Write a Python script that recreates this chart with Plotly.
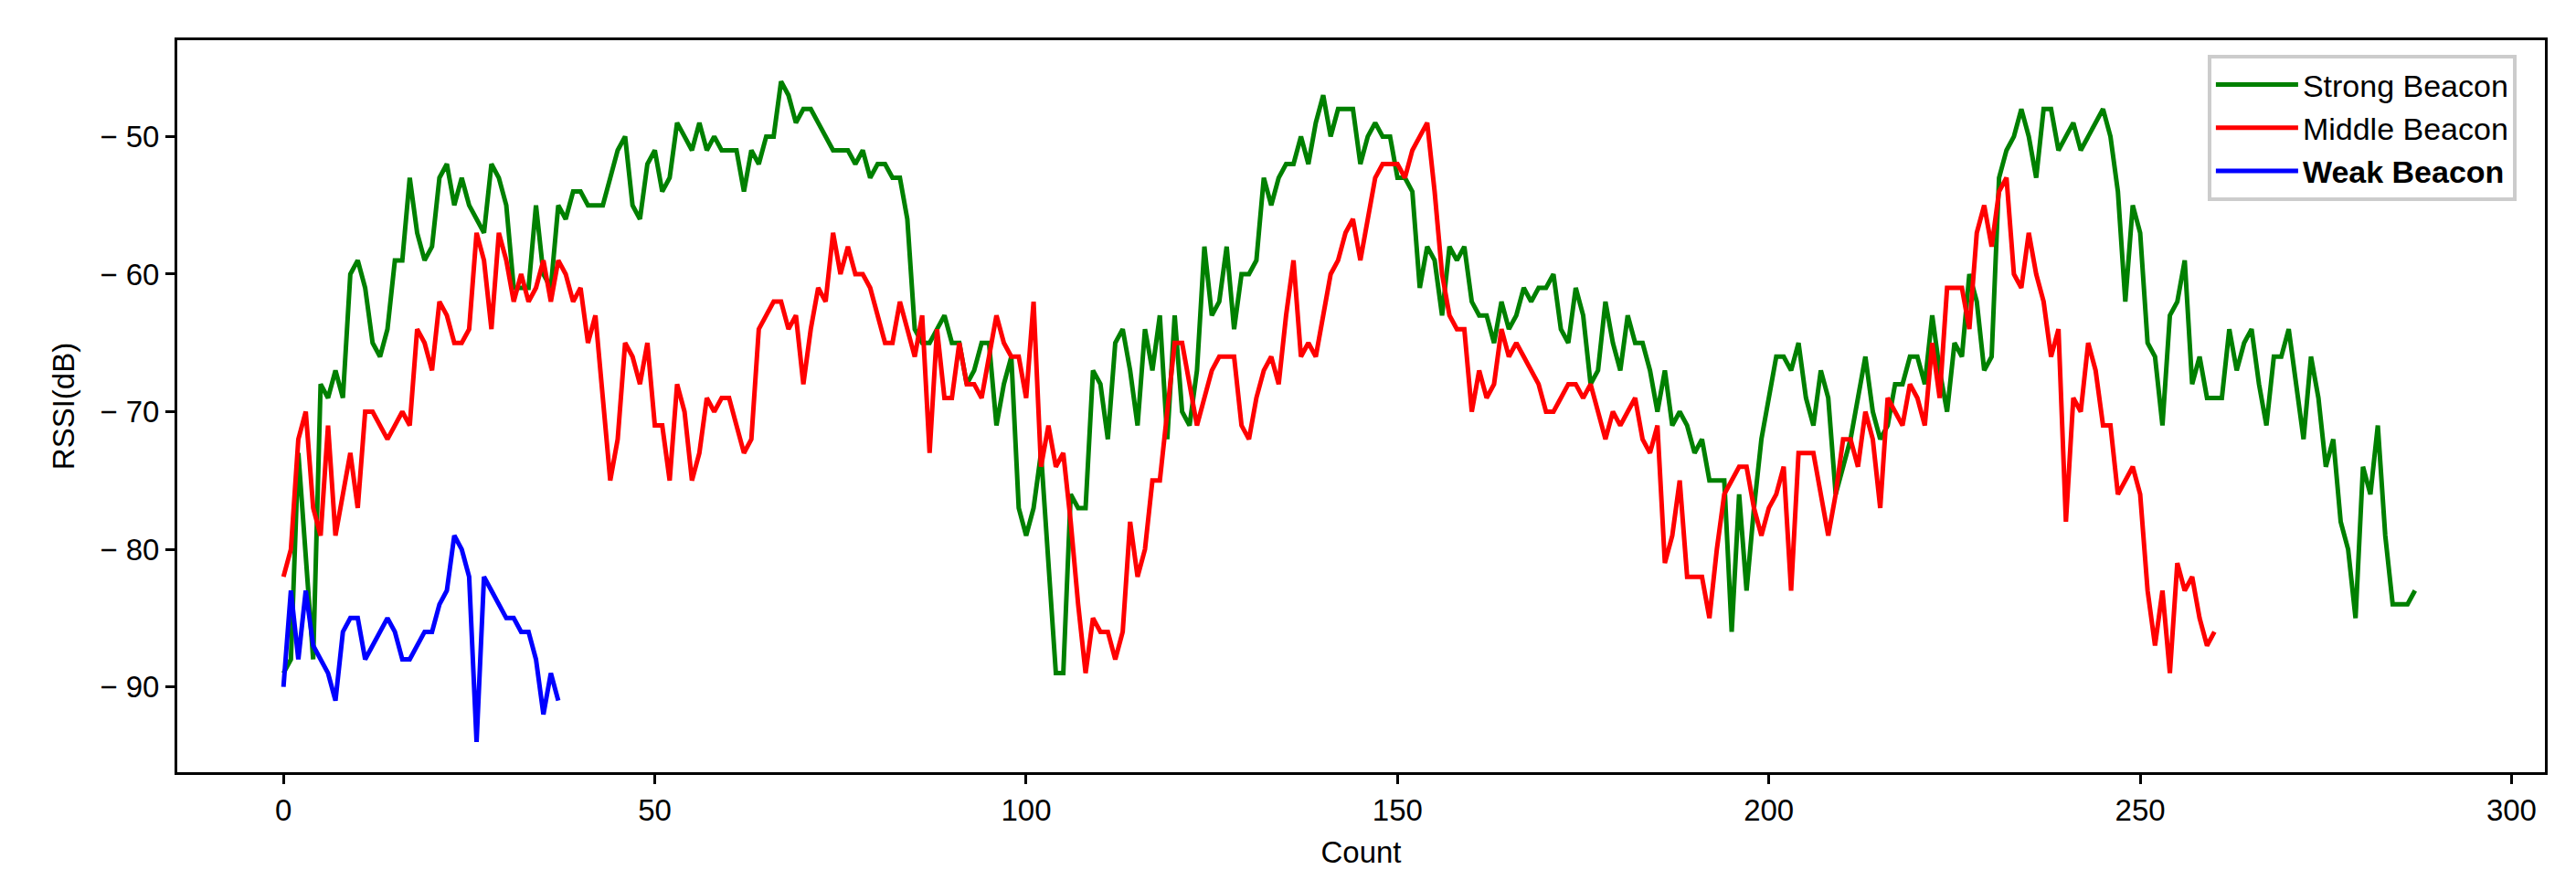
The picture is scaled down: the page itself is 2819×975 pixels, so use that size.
import plotly.graph_objects as go

strong = [-89,-88,-73,-80,-88,-68,-69,-67,-69,-60,-59,-61,-65,-66,-64,-59,-59,-53,-57,-59,
-58,-53,-52,-55,-53,-55,-56,-57,-52,-53,-55,-61,-61,-61,-55,-60,-61,-55,-56,-54,
-54,-55,-55,-55,-53,-51,-50,-55,-56,-52,-51,-54,-53,-49,-50,-51,-49,-51,-50,-51,
-51,-51,-54,-51,-52,-50,-50,-46,-47,-49,-48,-48,-49,-50,-51,-51,-51,-52,-51,-53,
-52,-52,-53,-53,-56,-64,-65,-65,-64,-63,-65,-65,-68,-67,-65,-65,-71,-68,-66,-77,
-79,-77,-73,-81,-89,-89,-76,-77,-77,-67,-68,-72,-65,-64,-67,-71,-64,-67,-63,-72,
-63,-70,-71,-67,-58,-63,-62,-58,-64,-60,-60,-59,-53,-55,-53,-52,-52,-50,-52,-49,
-47,-50,-48,-48,-48,-52,-50,-49,-50,-50,-53,-53,-54,-61,-58,-59,-63,-58,-59,-58,
-62,-63,-63,-65,-62,-64,-63,-61,-62,-61,-61,-60,-64,-65,-61,-63,-68,-67,-62,-65,
-67,-63,-65,-65,-67,-70,-67,-71,-70,-71,-73,-72,-75,-75,-75,-86,-76,-83,-77,-72,
-69,-66,-66,-67,-65,-69,-71,-67,-69,-76,-74,-72,-69,-66,-70,-72,-71,-68,-68,-66,
-66,-68,-63,-67,-70,-65,-66,-60,-62,-67,-66,-53,-51,-50,-48,-50,-53,-48,-48,-51,
-50,-49,-51,-50,-49,-48,-50,-54,-62,-55,-57,-65,-66,-71,-63,-62,-59,-68,-66,-69,
-69,-69,-64,-67,-65,-64,-68,-71,-66,-66,-64,-68,-72,-66,-69,-74,-72,-78,-80,-85,
-74,-76,-71,-79,-84,-84,-84,-83]

middle = [-82,-80,-72,-70,-77,-79,-71,-79,-76,-73,-77,-70,-70,-71,-72,-71,-70,-71,-64,-65,
-67,-62,-63,-65,-65,-64,-57,-59,-64,-57,-59,-62,-60,-62,-61,-59,-62,-59,-60,-62,
-61,-65,-63,-69,-75,-72,-65,-66,-68,-65,-71,-71,-75,-68,-70,-75,-73,-69,-70,-69,
-69,-71,-73,-72,-64,-63,-62,-62,-64,-63,-68,-64,-61,-62,-57,-60,-58,-60,-60,-61,
-63,-65,-65,-62,-64,-66,-63,-73,-64,-69,-69,-65,-68,-68,-69,-66,-63,-65,-66,-66,
-69,-62,-74,-71,-74,-73,-78,-84,-89,-85,-86,-86,-88,-86,-78,-82,-80,-75,-75,-70,
-65,-65,-68,-71,-69,-67,-66,-66,-66,-71,-72,-69,-67,-66,-68,-63,-59,-66,-65,-66,
-63,-60,-59,-57,-56,-59,-56,-53,-52,-52,-52,-53,-51,-50,-49,-54,-60,-63,-64,-64,
-70,-67,-69,-68,-64,-66,-65,-66,-67,-68,-70,-70,-69,-68,-68,-69,-68,-70,-72,-70,
-71,-70,-69,-72,-73,-71,-81,-79,-75,-82,-82,-82,-85,-80,-76,-75,-74,-74,-77,-79,
-77,-76,-74,-83,-73,-73,-73,-76,-79,-76,-72,-72,-74,-70,-72,-77,-69,-70,-71,-68,
-69,-71,-65,-69,-61,-61,-61,-64,-57,-55,-58,-54,-53,-60,-61,-57,-60,-62,-66,-64,
-78,-69,-70,-65,-67,-71,-71,-76,-75,-74,-76,-83,-87,-83,-89,-81,-83,-82,-85,-87,
-86]

weak = [-90,-83,-88,-83,-87,-88,-89,-91,-86,-85,-85,-88,-87,-86,-85,-86,-88,-88,-87,-86,
-86,-84,-83,-79,-80,-82,-94,-82,-83,-84,-85,-85,-86,-86,-88,-92,-89,-91]

names = ["Strong Beacon", "Middle Beacon", "<b>Weak Beacon</b>"]
colors = ["#008000", "#ff0000", "#0000ff"]
series = [strong, middle, weak]
xticks = [0, 50, 100, 150, 200, 250, 300]
yticks = [-50, -60, -70, -80, -90]

fig = go.Figure()
for s, n, c in zip(series, names, colors):
    fig.add_trace(go.Scatter(x=list(range(len(s))), y=s, mode="lines", name=n,
                             line=dict(color=c, width=5)))

font = dict(family="Liberation Sans, Arial, sans-serif", size=33, color="black")
axis_common = dict(showgrid=False, zeroline=False, showline=True, linecolor="black",
                   linewidth=3, mirror=True, ticks="outside", ticklen=10, tickwidth=3,
                   tickcolor="black", tickfont=font)
fig.update_layout(
    width=2819, height=975, plot_bgcolor="white", paper_bgcolor="white",
    margin=dict(l=186, r=42, t=36, b=138),
    font=font,
    xaxis=dict(range=[-14.3, 304.5], tickvals=xticks,
               title=dict(text="Count", font=font, standoff=18), **axis_common),
    yaxis=dict(range=[-96.2, -43.0], tickvals=yticks,
               ticktext=["\u2212 " + str(-v) for v in yticks],
               title=dict(text="RSSI(dB)", font=font, standoff=18), **axis_common),
    legend=dict(x=0.988, y=0.98, xanchor="right", yanchor="top",
                bgcolor="white", bordercolor="#cccccc", borderwidth=4,
                font=dict(family="Liberation Sans, Arial, sans-serif", size=34),
                itemwidth=90, tracegroupgap=0),
    showlegend=True,
)
fig.write_html("out.html")
